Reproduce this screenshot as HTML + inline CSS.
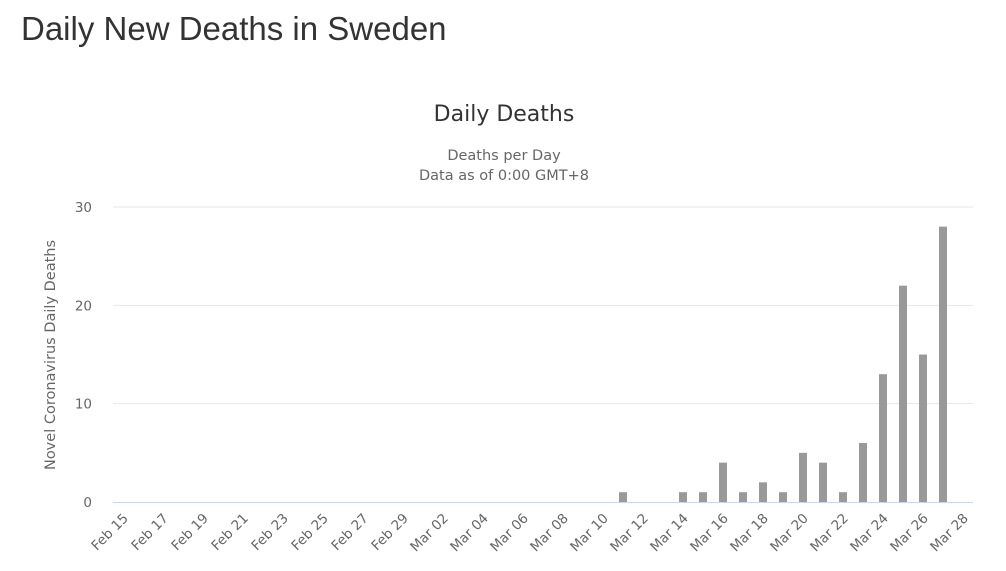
<!DOCTYPE html>
<html><head><meta charset="utf-8"><style>
body{margin:0;background:#fff;width:1006px;height:571px;overflow:hidden;font-family:"Liberation Sans",sans-serif}
h1{position:absolute;left:21px;top:10px;margin:0;font-weight:normal;font-size:33px;color:#333}
</style></head><body>
<h1>Daily New Deaths in Sweden</h1>
<svg id="c" width="1006" height="571" style="position:absolute;left:0;top:0;font-family:'DejaVu Sans',sans-serif">
<text x="504" y="121" text-anchor="middle" font-size="22" fill="#333">Daily Deaths</text>
<text x="504" y="160" text-anchor="middle" font-size="14.5" fill="#666">Deaths per Day</text>
<text x="504" y="180" text-anchor="middle" font-size="14.5" fill="#666">Data as of 0:00 GMT+8</text>
<text transform="translate(55,355) rotate(-90)" text-anchor="middle" font-size="14.5" fill="#666">Novel Coronavirus Daily Deaths</text>
</svg>
<script>
const categories=["Feb 15","Feb 16","Feb 17","Feb 18","Feb 19","Feb 20","Feb 21","Feb 22","Feb 23","Feb 24","Feb 25","Feb 26","Feb 27","Feb 28","Feb 29","Mar 01","Mar 02","Mar 03","Mar 04","Mar 05","Mar 06","Mar 07","Mar 08","Mar 09","Mar 10","Mar 11","Mar 12","Mar 13","Mar 14","Mar 15","Mar 16","Mar 17","Mar 18","Mar 19","Mar 20","Mar 21","Mar 22","Mar 23","Mar 24","Mar 25","Mar 26","Mar 27","Mar 28"];
const deaths=[0,0,0,0,0,0,0,0,0,0,0,0,0,0,0,0,0,0,0,0,0,0,0,0,0,1,0,0,1,1,4,1,2,1,5,4,1,6,13,22,15,28,0];
const yTicks=[0,10,20,30];
const svg=document.getElementById('c');const NS='http://www.w3.org/2000/svg';
const L=113,R=973,Y0=502,Y30=207;
const step=(R-L)/categories.length;
const x=i=>L+(i+0.5)*step;
const y=v=>Y0-(Y0-Y30)*v/30;
function mk(t,a){const e=document.createElementNS(NS,t);for(const k in a)e.setAttribute(k,a[k]);svg.appendChild(e);return e;}
yTicks.forEach(v=>{
 if(v>0){const g=mk('line',{x1:L,x2:R,y1:y(v),y2:y(v),stroke:'#e6e6e6'});
 
 }
 const t=mk('text',{x:92,y:y(v)+5,'text-anchor':'end','font-size':13.5,fill:'#666'});t.textContent=v;
 
 
});
const ax=mk('line',{x1:L,x2:R,y1:Y0+0.5,y2:Y0+0.5,stroke:'#ccd6eb'});


deaths.forEach((v,i)=>{
 if(v>0){const b=mk('rect',{x:x(i)-4,y:y(v),width:8,height:Y0-y(v),fill:'#999'});
 
 }
});
categories.forEach((c,i)=>{
 if(i%2)return;
 const t=mk('text',{transform:`translate(${x(i)+6},${Y0+17}) rotate(-45)`,'text-anchor':'end','font-size':13.5,fill:'#666'});
 t.textContent=c;
 
 
});
</script>
</body></html>
